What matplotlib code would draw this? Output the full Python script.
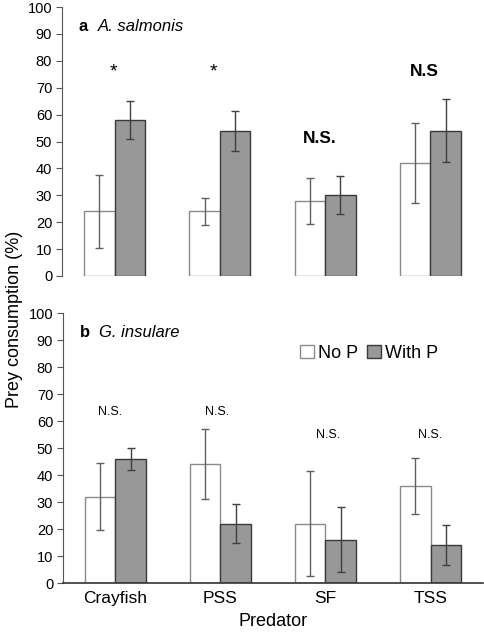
import matplotlib
matplotlib.use("Agg")
import matplotlib.pyplot as plt
import numpy as np
from matplotlib.patches import Patch

plt.rcParams['font.family'] = ['Liberation Sans', 'DejaVu Sans']

predators = ["Crayfish", "PSS", "SF", "TSS"]
a_nop = [24, 24, 28, 42]
a_nop_err = [13.5, 5, 8.5, 15]
a_withp = [58, 54, 30, 54]
a_withp_err = [7.2, 7.5, 7, 11.7]
a_sig = ["*", "*", "N.S.", "N.S"]
a_sig_y = [76, 76, 51, 76]
a_sig_dx = [-0.015, -0.06, -0.05, -0.06]

b_nop = [32, 44, 22, 36]
b_nop_err = [12.3, 13, 19.5, 10.3]
b_withp = [46, 22, 16, 14]
b_withp_err = [4, 7.2, 12, 7.5]
b_sig = ["N.S.", "N.S.", "N.S.", "N.S."]
b_sig_y = [63.3, 63.3, 54.8, 54.8]
b_sig_dx = [-0.05, -0.03, 0.02, 0.0]

fig = plt.figure(figsize=(4.84, 6.38), dpi=100)
ax1 = fig.add_axes([0.128, 0.5674, 0.870, 0.4216])
ax2 = fig.add_axes([0.130, 0.0862, 0.868, 0.4232])

x = np.arange(len(predators))
w = 0.29
grey = "#989898"

def draw(ax, nop, nope, wp, wpe):
    ax.bar(x - w/2, nop, w, color="white", edgecolor="#8a8a8a", linewidth=1.0,
           yerr=nope, error_kw=dict(ecolor="#606060", elinewidth=1.0, capsize=3, capthick=1.0))
    ax.bar(x + w/2, wp, w, color=grey, edgecolor="#3a3a3a", linewidth=1.0,
           yerr=wpe, error_kw=dict(ecolor="#404040", elinewidth=1.0, capsize=3, capthick=1.0))
    ax.set_xlim(-0.5, 3.5)
    ax.set_ylim(0, 100)
    ax.set_yticks(np.arange(0, 101, 10))
    ax.tick_params(axis='y', labelsize=10.5, length=4, width=0.8, color="#555555", pad=3)
    for s in ["top", "right"]:
        ax.spines[s].set_visible(False)
    ax.spines["left"].set_color("#555555")
    ax.spines["bottom"].set_color("#333333")

draw(ax1, a_nop, a_nop_err, a_withp, a_withp_err)
draw(ax2, b_nop, b_nop_err, b_withp, b_withp_err)

ax1.spines["bottom"].set_visible(False)
ax1.set_xticks([])
ax2.set_xticks(x)
ax2.set_xticklabels(predators, fontsize=12.5)
ax2.tick_params(axis='x', length=0, pad=6)
ax2.spines["bottom"].set_linewidth(1.2)

for i, (t, yv) in enumerate(zip(a_sig, a_sig_y)):
    ax1.text(x[i] + a_sig_dx[i], yv, t, ha="center", va="center",
             fontsize=14 if t == "*" else 12.5, fontweight="bold" if t != "*" else "normal")
for i, (t, yv) in enumerate(zip(b_sig, b_sig_y)):
    ax2.text(x[i] + b_sig_dx[i], yv, t, ha="center", va="center", fontsize=9)

ax1.text(0.04, 0.955, "a", transform=ax1.transAxes, fontsize=12, fontweight="bold", va="top")
ax1.text(0.085, 0.955, "A. salmonis", transform=ax1.transAxes, fontsize=12, style="italic", va="top")
ax2.text(0.04, 0.955, "b", transform=ax2.transAxes, fontsize=12, fontweight="bold", va="top")
ax2.text(0.085, 0.955, "G. insulare", transform=ax2.transAxes, fontsize=12, style="italic", va="top")

handles = [Patch(facecolor="white", edgecolor="#8a8a8a", label="No P"),
           Patch(facecolor=grey, edgecolor="#3a3a3a", label="With P")]
ax2.legend(handles=handles, loc="upper right", bbox_to_anchor=(0.91, 0.91), ncol=2,
           frameon=False, fontsize=13, handlelength=0.8, handleheight=0.8,
           handletextpad=0.2, columnspacing=0.5, borderaxespad=0)

fig.text(0.03, 0.5, "Prey consumption (%)", rotation=90, ha="center", va="center", fontsize=13)
fig.text(0.565, 0.012, "Predator", ha="center", va="bottom", fontsize=13)

fig.savefig("out.png", dpi=100)
